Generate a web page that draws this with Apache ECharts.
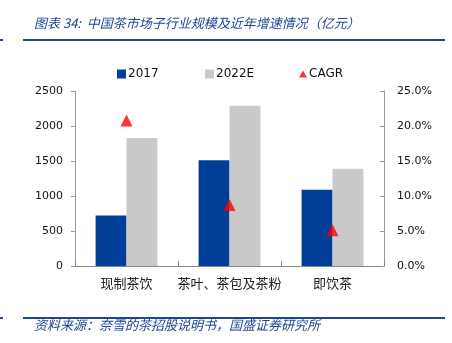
<!DOCTYPE html>
<html>
<head>
<meta charset="utf-8">
<script src="https://cdn.jsdelivr.net/npm/echarts@6/dist/echarts.min.js"></script>
<style>
  html, body { margin: 0; padding: 0; background: #fff; }
  #chart { width: 452px; height: 343px; }
</style>
</head>
<body>
<div id="chart"></div>
<script>
// Segment names along the category axis
const categories = ['现制茶饮', '茶叶、茶包及茶粉', '即饮茶'];
// Market size, 亿元
const size2017 = [720, 1510, 1090];
const size2022E = [1830, 2290, 1390];
// Compound annual growth rate, 2017–2022E
const cagr = [0.208, 0.087, 0.051];
// Axis tick settings
const leftMax = 2500, leftStep = 500;
const rightMax = 0.25, rightStep = 0.05;

const blue = '#003f98';
const grey = '#c9c9c9';
const red = '#ff0000';
const navy = '#1f4592';
const numFont = 'DejaVu Sans';
const cjkFont = 'Noto Sans CJK SC';

const chart = echarts.init(document.getElementById('chart'));

const legendBase = {
  top: 63,
  itemWidth: 9,
  itemHeight: 9,
  itemGap: 0,
  textStyle: { fontFamily: numFont, fontSize: 12, color: '#111', padding: [0, 0, 0, -3] },
  selectedMode: false
};

chart.setOption({
  animation: false,
  backgroundColor: '#fff',
  legend: [
    Object.assign({}, legendBase, { left: 112, data: [{ name: '2017', icon: 'rect' }] }),
    Object.assign({}, legendBase, { left: 200, data: [{ name: '2022E', icon: 'rect' }] }),
    Object.assign({}, legendBase, { left: 294, itemWidth: 8, itemHeight: 7, data: [{ name: 'CAGR', icon: 'triangle' }] })
  ],
  grid: { left: 75, right: 68, top: 91, bottom: 77 },
  xAxis: {
    type: 'category',
    data: categories,
    axisLine: { lineStyle: { color: '#888', width: 1 } },
    axisTick: { show: true, inside: true, length: 5, interval: 0, lineStyle: { color: '#888' } },
    axisLabel: { fontFamily: cjkFont, fontSize: 13, color: '#222', margin: 11, interval: 0 }
  },
  yAxis: [
    {
      type: 'value', min: 0, max: leftMax, interval: leftStep,
      axisLine: { show: true, lineStyle: { color: '#999' } },
      axisTick: { show: true, length: 4, lineStyle: { color: '#999' } },
      splitLine: { show: false },
      axisLabel: { fontFamily: numFont, fontSize: 11, color: '#111', margin: 12, formatter: v => String(v) }
    },
    {
      type: 'value', min: 0, max: rightMax, interval: rightStep,
      axisLine: { show: true, lineStyle: { color: '#999' } },
      axisTick: { show: true, inside: true, length: 4, lineStyle: { color: '#999' } },
      splitLine: { show: false },
      axisLabel: {
        fontFamily: numFont, fontSize: 11, color: '#111', margin: 13,
        formatter: v => (v * 100).toFixed(1) + '%'
      }
    }
  ],
  series: [
    {
      name: '2017', type: 'bar', data: size2017,
      itemStyle: { color: blue },
      barGap: '0%', barCategoryGap: '40%'
    },
    {
      name: '2022E', type: 'bar', data: size2022E,
      itemStyle: { color: grey }
    },
    {
      name: 'CAGR', type: 'scatter', yAxisIndex: 1, data: cagr,
      symbol: 'triangle', symbolSize: [12, 12],
      itemStyle: { color: red }, z: 5
    }
  ],
  graphic: [
    {
      type: 'text', left: 34, top: 17,
      style: {
        text: '图表 34:  中国茶市场子行业规模及近年增速情况（亿元）',
        font: 'italic 13px "Noto Sans CJK SC"', fill: navy
      }
    },
    { type: 'rect', shape: { x: 23, y: 39, width: 422, height: 2 }, style: { fill: navy } },
    { type: 'rect', shape: { x: 0, y: 39, width: 3, height: 2 }, style: { fill: navy } },
    { type: 'rect', shape: { x: 23, y: 317, width: 422, height: 2 }, style: { fill: navy } },
    { type: 'rect', shape: { x: 0, y: 317, width: 3, height: 2 }, style: { fill: navy } },
    {
      type: 'text', left: 34, top: 319,
      style: {
        text: '资料来源：奈雪的茶招股说明书，国盛证券研究所',
        font: 'italic 13px "Noto Sans CJK SC"', fill: navy
      }
    }
  ]
});
</script>
</body>
</html>
